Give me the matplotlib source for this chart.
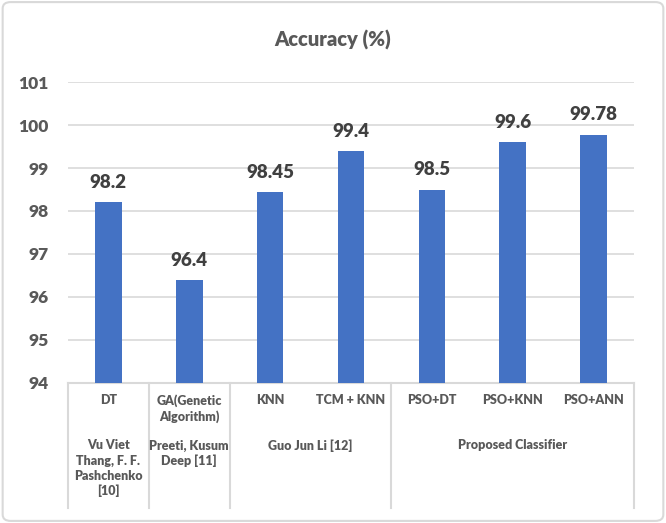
import matplotlib

matplotlib.use("Agg")
from matplotlib import pyplot as plt
from matplotlib.patches import FancyBboxPatch

methods = ["DT", "GA(Genetic\nAlgorithm)", "KNN", "TCM + KNN", "PSO+DT", "PSO+KNN", "PSO+ANN"]
accuracy = [98.2, 96.4, 98.45, 99.4, 98.5, 99.6, 99.78]
value_labels = ["98.2", "96.4", "98.45", "99.4", "98.5", "99.6", "99.78"]
groups = [
    "Vu Viet\nThang, F. F.\nPashchenko\n[10]",
    "Preeti, Kusum\nDeep [11]",
    "Guo Jun Li [12]",
    "Proposed Classifier",
]
group_sizes = [1, 1, 2, 3]
y_ticks = [94, 95, 96, 97, 98, 99, 100, 101]

plt.rcParams["font.family"] = ["Lato", "DejaVu Sans"]
BAR = "#4472C4"
GRID = "#D9D9D9"
TEXT = "#595959"

fig = plt.figure(figsize=(6.66, 5.23), dpi=100)
frame = FancyBboxPatch((0.004, 0.004), 0.992, 0.992, boxstyle="round,pad=0,rounding_size=0.012",
                       transform=fig.transFigure, facecolor="none", edgecolor=GRID, linewidth=1.5,
                       zorder=-1)
fig.patches.append(frame)

ax = fig.add_axes([0.102, 0.268, 0.850, 0.575])
ax.set_facecolor("none")
xs = list(range(len(methods)))
ax.bar(xs, [v - y_ticks[0] for v in accuracy], bottom=y_ticks[0], width=0.33, color=BAR, zorder=3)
for x, v, lab in zip(xs, accuracy, value_labels):
    ax.annotate(lab, (x, v), xytext=(0, 8), textcoords="offset points", ha="center", va="bottom",
                fontsize=13.5, fontweight="heavy", color="#404040")

ax.set_xlim(-0.5, len(methods) - 0.5)
ax.set_ylim(y_ticks[0], y_ticks[-1])
ax.set_yticks(y_ticks)
ax.set_yticklabels([str(t) for t in y_ticks], fontsize=12.5, fontweight="heavy", color=TEXT)
ax.tick_params(axis="y", length=0, pad=14)
ax.set_xticks([])
ax.grid(axis="y", color=GRID, linewidth=1.2, zorder=0)
for side in ("top", "right", "left"):
    ax.spines[side].set_visible(False)
ax.spines["bottom"].set_color(GRID)
ax.spines["bottom"].set_linewidth(1.5)

trans = ax.get_xaxis_transform()
for x, name in zip(xs, methods):
    ax.text(x, -0.038, name, transform=trans, ha="center", va="top", fontsize=9,
            fontweight="heavy", color=TEXT, linespacing=1.3)

start = 0
bounds = [-0.5]
for name, size in zip(groups, group_sizes):
    center = start + (size - 1) / 2
    ax.text(center, -0.188, name, transform=trans, ha="center", va="top", fontsize=9,
            fontweight="heavy", color=TEXT, linespacing=1.3)
    start += size
    bounds.append(start - 0.5)
for b in bounds:
    ax.plot([b, b], [0, -0.415], transform=trans, color=GRID, linewidth=1.5, clip_on=False)

fig.text(0.5, 0.924, "Accuracy (%)", ha="center", va="center", fontsize=14.5,
         fontweight="heavy", color=TEXT)

fig.savefig("out.png", dpi=100)
